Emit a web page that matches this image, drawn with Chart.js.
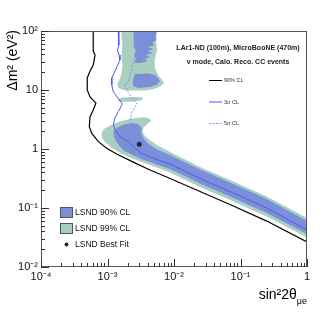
<!DOCTYPE html>
<html><head><meta charset="utf-8">
<script src="https://cdn.jsdelivr.net/npm/chart.js@4.4.0/dist/chart.umd.min.js"></script>
<style>html,body{margin:0;padding:0;background:#fff;}canvas{display:block}</style>
</head><body>
<canvas id="c" width="324" height="315"></canvas>
<script>
// ---- tick labels ----
const xTicks = [1e-4, 1e-3, 1e-2, 1e-1, 1];
const xTickLabels = ['10⁻⁴', '10⁻³', '10⁻²', '10⁻¹', '1'];
const yTicks = [1e-2, 1e-1, 1, 10, 100];
const yTickLabels = ['10⁻²', '10⁻¹', '1', '10', '10²'];

// ---- LSND 99% CL (green) regions: [sin²2θ, Δm²] ----
const lsnd99Main = [[8.13e-4,1.87],[8.86e-4,2.18],[1.13e-3,2.55],[1.54e-3,2.92],[2.18e-3,3.22],[3.08e-3,3.42],[3.93e-3,3.42],[4.59e-3,3.10],[4.06e-3,2.70],[3.48e-3,2.31],[3.36e-3,1.94],[3.66e-3,1.66],[4.21e-3,1.45],[5.55e-3,1.17],[8.71e-3,0.889],[0.0246,0.495],[0.078,0.281],[0.248,0.157],[1,0.0677],[1,0.0316],[0.248,0.0718],[0.078,0.129],[0.0246,0.227],[8.71e-3,0.400],[5.50e-3,0.485],[3.08e-3,0.614],[1.71e-3,0.807],[1.17e-3,1.04],[9.17e-4,1.31],[8.27e-4,1.53]];
const lsnd99Upper = [[1.64e-3,100],[5.55e-3,100],[5.36e-3,70.4],[5.55e-3,47.6],[5.09e-3,32.2],[5.18e-3,23.6],[5.75e-3,17.9],[6.60e-3,14.8],[7.07e-3,12.9],[6.16e-3,11.5],[5.00e-3,10.4],[3.66e-3,9.8],[1.83e-3,9.8],[1.46e-3,10.8],[1.41e-3,12.6],[1.51e-3,14.8],[1.62e-3,18.7],[1.68e-3,26.5],[1.62e-3,39.2],[1.68e-3,58],[1.62e-3,85.5]];
const lsnd99Island = [[1.44e-3,6.90],[1.65e-3,7.46],[2.59e-3,7.61],[3.42e-3,7.46],[3.30e-3,6.77],[2.59e-3,6.38],[1.65e-3,6.26],[1.44e-3,6.51]];

// ---- LSND 90% CL (blue) regions ----
const lsnd90Main = [[1.23e-3,1.98],[1.39e-3,2.31],[1.77e-3,2.60],[2.34e-3,2.76],[2.87e-3,2.65],[3.25e-3,2.31],[3.25e-3,1.79],[3.54e-3,1.48],[4.14e-3,1.22],[5.55e-3,0.98],[8.71e-3,0.791],[0.0246,0.450],[0.078,0.255],[0.248,0.142],[1,0.0603],[1,0.0362],[0.248,0.0822],[0.078,0.148],[0.0246,0.260],[8.71e-3,0.458],[5.50e-3,0.546],[3.08e-3,0.690],[1.74e-3,0.944],[1.39e-3,1.26],[1.25e-3,1.60]];
const lsnd90UpperA = [[2.46e-3,100],[5.46e-3,100],[5.27e-3,82.3],[5.46e-3,70.4],[4.67e-3,62.6],[5.18e-3,58.0],[4.06e-3,53.5],[5.00e-3,49.5],[3.93e-3,45.8],[4.83e-3,42.4],[3.79e-3,39.2],[4.35e-3,36.3],[3.66e-3,33.5],[4.06e-3,31.0],[3.08e-3,28.7],[2.50e-3,28.7],[2.68e-3,33.5],[2.50e-3,39.2],[2.68e-3,45.8],[2.50e-3,53.5],[2.50e-3,70.4],[2.46e-3,85.5]];
const lsnd90UpperB = [[2.59e-3,18.7],[4.06e-3,19.0],[5.18e-3,17.9],[5.75e-3,16.0],[6.16e-3,14.2],[5.55e-3,12.4],[4.35e-3,11.2],[2.87e-3,10.8],[2.42e-3,11.7],[2.42e-3,14.8]];

// ---- sensitivity curves ----
const cl90 = [[6.1e-4,100],[6.1e-4,45.8],[6.5e-4,39.2],[6.1e-4,26.5],[5.46e-4,21.0],[4.96e-4,16.0],[4.96e-4,10.0],[5.46e-4,7.6],[6.7e-4,6.0],[6.1e-4,4.58],[5.46e-4,3.53],[5.32e-4,2.39],[5.78e-4,1.85],[7.28e-4,1.33],[9.73e-4,1.03],[1.37e-3,0.82],[2.44e-3,0.60],[4.35e-3,0.44],[7.76e-3,0.335],[0.0246,0.19],[0.078,0.108],[0.248,0.060],[1,0.0265]];
const sigma3 = [[1.45e-3,100],[1.48e-3,58],[1.41e-3,47.6],[1.49e-3,39.2],[1.54e-3,32.2],[1.30e-3,21.0],[1.16e-3,16.0],[1.16e-3,12.2],[1.22e-3,9.36],[1.45e-3,7.23],[1.68e-3,5.79],[1.45e-3,4.29],[1.27e-3,3.22],[1.23e-3,2.55],[1.30e-3,2.10],[1.54e-3,1.61],[2.06e-3,1.33],[3.08e-3,0.873],[4.35e-3,0.731],[8.71e-3,0.557],[0.0246,0.316],[0.078,0.180],[0.248,0.1],[1,0.0424],[1,0.01]];
const sigma5 = [[2.78e-3,100],[2.68e-3,58],[2.59e-3,39.2],[2.44e-3,30.6],[2.31e-3,23.6],[2.06e-3,14.0],[1.83e-3,12.2],[2.03e-3,9.25],[2.34e-3,7.31],[2.78e-3,5.79],[2.34e-3,4.24],[2.18e-3,2.90],[2.44e-3,1.85],[3.08e-3,1.33],[4.88e-3,1.03],[8.71e-3,0.760],[0.0246,0.407],[0.078,0.227],[0.248,0.124],[1,0.0535]];
const bestFit = [[3.0e-3,1.2]];

const GREEN = '#a9cfc0', BLUE = '#7b8fd8', LINE3 = '#5656ee', LINE5 = '#8c8cf2';
const pts = a => a.map(p => ({x:p[0], y:p[1]}));
const region = (d, c, o) => ({data:pts(d), showLine:true, fill:'shape', backgroundColor:c, borderColor:'transparent', borderWidth:0.01, pointRadius:0, order:o});
const curve = (d, c, w, dash, o) => ({data:pts(d), showLine:true, fill:false, borderColor:c, borderWidth:w, borderDash:dash, pointRadius:0, order:o});

const decor = {
  id:'decor',
  afterDraw(chart){
    const {ctx, chartArea:a, scales:{x, y}} = chart;
    ctx.save();
    // frame
    ctx.strokeStyle = '#555'; ctx.lineWidth = 1;
    ctx.strokeRect(Math.round(a.left)+0.5, Math.round(a.top)+0.5, Math.round(a.right-a.left)-1, Math.round(a.bottom-a.top)-1);
    // ticks (inside)
    ctx.strokeStyle = '#333';
    ctx.beginPath();
    for (let e = -4; e <= 0; e++) for (let m = 1; m < 10; m++) {
      const v = m * Math.pow(10, e); if (v > 1.0001) break;
      const px = Math.round(x.getPixelForValue(v)) + 0.5;
      const L = m === 1 ? 8 : 4;
      ctx.moveTo(px, a.bottom); ctx.lineTo(px, a.bottom - L);
    }
    for (let e = -2; e <= 2; e++) for (let m = 1; m < 10; m++) {
      const v = m * Math.pow(10, e); if (v > 100.01) break;
      const py = Math.round(y.getPixelForValue(v)) + 0.5;
      const L = m === 1 ? 8 : 4;
      ctx.moveTo(a.left, py); ctx.lineTo(a.left + L, py);
    }
    ctx.stroke();

    // axis titles
    ctx.fillStyle = '#000';
    ctx.font = '14px "Liberation Sans", Arial, sans-serif';
    ctx.textBaseline = 'alphabetic';
    // x title: sin²2θ_μe (right aligned to axis end)
    const main = 'sin²2θ', sub = 'μe';
    ctx.font = '9px "Liberation Sans", Arial, sans-serif';
    const ws = ctx.measureText(sub).width;
    ctx.font = '14px "Liberation Sans", Arial, sans-serif';
    const wm = ctx.measureText(main).width;
    const xr = a.right;
    ctx.textAlign = 'left';
    ctx.fillText(main, xr - ws - wm, 299);
    ctx.font = '9px "Liberation Sans", Arial, sans-serif';
    ctx.fillText(sub, xr - ws, 304);
    // y title
    ctx.save();
    ctx.translate(17, a.top - 1);
    ctx.rotate(-Math.PI/2);
    ctx.font = '14px "Liberation Sans", Arial, sans-serif';
    ctx.textAlign = 'right';
    ctx.fillText('Δm² (eV²)', 0, 0);
    ctx.restore();

    // top-right legend
    ctx.fillStyle = '#222';
    ctx.textAlign = 'center';
    ctx.textBaseline = 'middle';
    ctx.font = 'bold 7px "Liberation Sans", Arial, sans-serif';
    ctx.fillText('LAr1-ND (100m), MicroBooNE (470m)', 238, 48);
    ctx.fillText('ν mode, Calo. Reco. CC events', 238, 62.5);
    ctx.textAlign = 'left';
    ctx.font = '5.5px "Liberation Sans", Arial, sans-serif';
    ctx.fillStyle = '#333';
    const items = [['90% CL', '#000', [], 80], ['3σ CL', LINE3, [], 101.5], ['5σ CL', LINE5, [2,1.5], 123]];
    for (const [t, c, d, yy] of items) {
      ctx.strokeStyle = c; ctx.lineWidth = 1; ctx.setLineDash(d);
      ctx.beginPath(); ctx.moveTo(209, yy + 0.5); ctx.lineTo(222, yy + 0.5); ctx.stroke();
      ctx.setLineDash([]);
      ctx.fillText(t, 224, yy + 0.5);
    }

    // bottom-left legend
    ctx.font = '8.5px "Liberation Sans", Arial, sans-serif';
    ctx.fillStyle = '#111';
    ctx.strokeStyle = '#555'; ctx.lineWidth = 1;
    ctx.fillStyle = BLUE; ctx.fillRect(60.5, 207.5, 12, 10); ctx.strokeRect(60.5, 207.5, 12, 10);
    ctx.fillStyle = GREEN; ctx.fillRect(60.5, 223.5, 12, 10); ctx.strokeRect(60.5, 223.5, 12, 10);
    ctx.fillStyle = '#111';
    ctx.fillText('LSND 90% CL', 75, 212.5);
    ctx.fillText('LSND 99% CL', 75, 228.5);
    ctx.fillText('LSND Best Fit', 75, 244.5);
    // star marker
    ctx.strokeStyle = '#222'; ctx.lineWidth = 1.2;
    ctx.beginPath();
    const sx = 66.5, sy = 244.5, r = 2;
    ctx.moveTo(sx - r, sy); ctx.lineTo(sx + r, sy);
    ctx.moveTo(sx, sy - r); ctx.lineTo(sx, sy + r);
    ctx.moveTo(sx - r*0.7, sy - r*0.7); ctx.lineTo(sx + r*0.7, sy + r*0.7);
    ctx.moveTo(sx - r*0.7, sy + r*0.7); ctx.lineTo(sx + r*0.7, sy - r*0.7);
    ctx.stroke();
    ctx.restore();
  }
};

new Chart(document.getElementById('c'), {
  type: 'scatter',
  data: { datasets: [
    region(lsnd99Main, GREEN, 20), region(lsnd99Upper, GREEN, 19), region(lsnd99Island, GREEN, 18),
    region(lsnd90Main, BLUE, 15), region(lsnd90UpperA, BLUE, 14), region(lsnd90UpperB, BLUE, 13),
    curve(cl90, '#000', 1.2, [], 5), curve(sigma3, LINE3, 1, [], 4), curve(sigma5, LINE5, 1, [2,1.5], 3),
    {data: pts(bestFit), showLine:false, pointStyle:'star', pointRadius:2.5, borderColor:'#222', backgroundColor:'#222', borderWidth:1.5, order:1}
  ]},
  options: {
    responsive:false, animation:false, devicePixelRatio:1,
    layout:{padding:{left:0, top:31, right:17, bottom:0}},
    plugins:{legend:{display:false}, tooltip:{enabled:false}},
    scales:{
      x:{type:'logarithmic', min:1e-4, max:1,
        afterFit(s){ s.height = 48; },
        afterBuildTicks(s){ s.ticks = xTicks.map(v => ({value:v})); },
        grid:{display:false, drawTicks:false}, border:{display:false},
        ticks:{autoSkip:false, maxRotation:0, padding:3, color:'#111',
          font:{family:'"Liberation Sans", Arial, sans-serif', size:11},
          callback:(v) => { const i = xTicks.findIndex(t => Math.abs(Math.log10(t) - Math.log10(v)) < 1e-6); return i >= 0 ? xTickLabels[i] : ''; }}},
      y:{type:'logarithmic', min:1e-2, max:100,
        afterFit(s){ s.width = 41; },
        afterBuildTicks(s){ s.ticks = yTicks.map(v => ({value:v})); },
        grid:{display:false, drawTicks:false}, border:{display:false},
        ticks:{autoSkip:false, padding:3, color:'#111',
          font:{family:'"Liberation Sans", Arial, sans-serif', size:11},
          callback:(v) => { const i = yTicks.findIndex(t => Math.abs(Math.log10(t) - Math.log10(v)) < 1e-6); return i >= 0 ? yTickLabels[i] : ''; }}}
    }
  },
  plugins:[decor]
});
</script>
</body></html>
